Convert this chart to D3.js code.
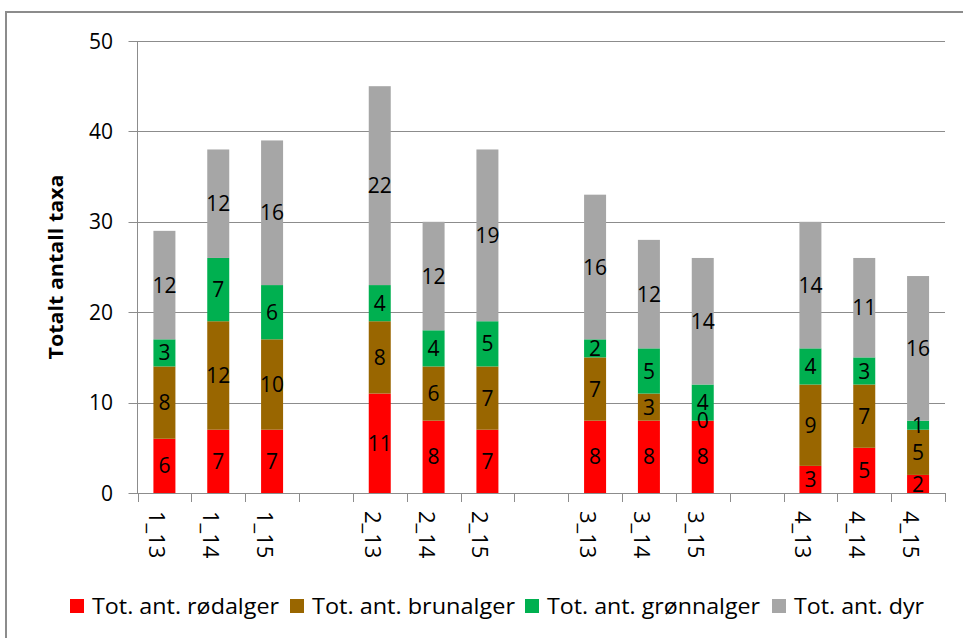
<!DOCTYPE html>
<html>
<head>
<meta charset="utf-8">
<script src="https://cdn.jsdelivr.net/npm/d3@7.9.0/dist/d3.min.js"></script>
<style>
  body { margin: 0; background: #fff; }
  svg { font-family: "Open Sans", "Noto Sans", sans-serif; }
</style>
</head>
<body>
<svg width="963" height="638"></svg>
<script>
// categories ('g*' are the empty gaps between groups)
const categories = ['1_13', '1_14', '1_15', 'g1', '2_13', '2_14', '2_15', 'g2',
                    '3_13', '3_14', '3_15', 'g3', '4_13', '4_14', '4_15'];
const seriesNames = ['Tot. ant. rødalger', 'Tot. ant. brunalger', 'Tot. ant. grønnalger', 'Tot. ant. dyr'];
const rodalger   = [6, 7, 7, null, 11, 8, 7, null, 8, 8, 8, null, 3, 5, 2];
const brunalger  = [8, 12, 10, null, 8, 6, 7, null, 7, 3, 0, null, 9, 7, 5];
const gronnalger = [3, 7, 6, null, 4, 4, 5, null, 2, 5, 4, null, 4, 3, 1];
const dyr        = [12, 12, 16, null, 22, 12, 19, null, 16, 12, 14, null, 14, 11, 16];
const yTicks = [0, 10, 20, 30, 40, 50];
const colors = ['#ff0000', '#996600', '#00b050', '#a6a6a6'];

const svg = d3.select('svg');

// outer frame
svg.append('rect').attr('x', 6).attr('y', 12).attr('width', 980).attr('height', 660)
  .attr('fill', 'none').attr('stroke', '#8c8c8c').attr('stroke-width', 2);

const plotL = 137.5, plotR = 945, plotT = 41, plotB = 493;
const x = d3.scaleBand().domain(categories).range([plotL, plotR]);
const y = d3.scaleLinear().domain([0, 50]).range([plotB, plotT]);
const barW = 22;

// gridlines + y ticks
svg.append('g').selectAll('line').data(yTicks).join('line')
  .attr('x1', plotL - 9).attr('x2', plotR)
  .attr('y1', d => Math.round(y(d)) + 0.5).attr('y2', d => Math.round(y(d)) + 0.5)
  .attr('stroke', '#8c8c8c').attr('stroke-width', 1);
svg.append('g').selectAll('text').data(yTicks).join('text')
  .attr('x', 113).attr('y', d => y(d)).attr('dy', '0.36em')
  .attr('text-anchor', 'end').attr('font-size', 21).attr('fill', '#000')
  .text(d => d);

// y axis line
svg.append('line').attr('x1', plotL).attr('x2', plotL).attr('y1', plotT).attr('y2', plotB)
  .attr('stroke', '#8c8c8c');

// x ticks at slot boundaries
const bounds = categories.map(c => x(c)).concat([plotR]);
svg.append('g').selectAll('line').data(bounds).join('line')
  .attr('x1', d => Math.round(d) + 0.5).attr('x2', d => Math.round(d) + 0.5)
  .attr('y1', plotB).attr('y2', plotB + 9)
  .attr('stroke', '#8c8c8c');

// stack
const rows = categories.map((c, i) => ({
  cat: c, s0: rodalger[i], s1: brunalger[i], s2: gronnalger[i], s3: dyr[i]
})).filter(r => r.s0 !== null);
const stack = d3.stack().keys(['s0', 's1', 's2', 's3'])(rows);

const layers = svg.append('g').selectAll('g').data(stack).join('g')
  .attr('fill', (d, i) => colors[i]);
layers.selectAll('rect').data(d => d).join('rect')
  .attr('x', d => x(d.data.cat) + (x.bandwidth() - barW) / 2)
  .attr('width', barW)
  .attr('y', d => y(d[1]))
  .attr('height', d => y(d[0]) - y(d[1]));

// value labels
const labels = svg.append('g');
stack.forEach(layer => {
  layer.forEach(d => {
    labels.append('text')
      .attr('x', x(d.data.cat) + x.bandwidth() / 2)
      .attr('y', y((d[0] + d[1]) / 2)).attr('dy', '0.36em')
      .attr('text-anchor', 'middle').attr('font-size', 21).attr('fill', '#000')
      .text(d.data[layer.key]);
  });
});

// x labels
svg.append('g').selectAll('text').data(categories.filter(c => !c.startsWith('g'))).join('text')
  .attr('transform', d => `translate(${x(d) + x.bandwidth() / 2 - 7},511) rotate(90)`)
  .attr('dy', '0.36em').attr('font-size', 22).attr('fill', '#000')
  .text(d => d);

// y axis title
svg.append('text')
  .attr('transform', `translate(63,${(plotT + plotB) / 2}) rotate(-90)`)
  .attr('text-anchor', 'middle').attr('font-size', 19).attr('font-weight', 'bold')
  .attr('textLength', 185).attr('lengthAdjust', 'spacingAndGlyphs')
  .text('Totalt antall taxa');

// legend
const legendX = [70, 290, 525, 772];
const legendW = [187, 203, 213, 130];
const lg = svg.append('g').selectAll('g').data(seriesNames).join('g')
  .attr('transform', (d, i) => `translate(${legendX[i]},606)`);
lg.append('rect').attr('x', 0).attr('y', -7).attr('width', 14).attr('height', 14)
  .attr('fill', (d, i) => colors[i]);
lg.append('text').attr('x', 22).attr('dy', '0.36em').attr('font-size', 22)
  .attr('textLength', (d, i) => legendW[i]).attr('lengthAdjust', 'spacingAndGlyphs')
  .text(d => d);
</script>
</body>
</html>
